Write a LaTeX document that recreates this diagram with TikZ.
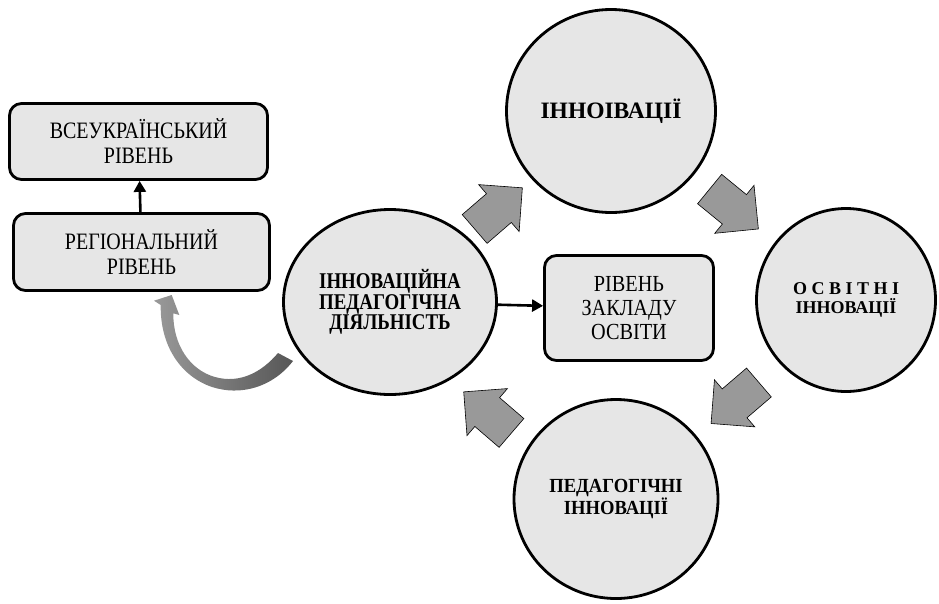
\documentclass[tikz,border=0pt]{standalone}
\usepackage{fontspec}
\setmainfont{Liberation Serif}
\newfontfamily\boxfont[FakeStretch=0.85]{Liberation Serif}
\newfontfamily\schoolfont[FakeStretch=0.88]{Liberation Serif}
\newfontfamily\actfont[FakeStretch=0.84]{Liberation Serif}
\newfontfamily\pedfont[FakeStretch=0.93]{Liberation Serif}
\usetikzlibrary{shapes.geometric,arrows.meta}
\definecolor{nodefill}{HTML}{E6E6E6}
\definecolor{arrowfill}{HTML}{999999}

\begin{document}
\begin{tikzpicture}[x=1pt,y=-1pt,
  levelbox/.style={draw, line width=2.8pt, rounded corners=12pt, fill=nodefill,
    align=center, inner sep=0pt},
  bubble/.style={ellipse, draw, line width=2.8pt, fill=nodefill, align=center,
    inner sep=0pt},
  fatarrow/.style={draw, line width=0.6pt, fill=arrowfill},
  link/.style={line width=2.6pt, -{Triangle[length=11pt,width=12pt]}}
]
\path[use as bounding box] (0,0) rectangle (939,603);

% level boxes
\node[levelbox, minimum width=258pt, minimum height=76pt,
  font=\boxfont\fontsize{23.5}{25}\selectfont] (all) at (138.5,141.5) {ВСЕУКРАЇНСЬКИЙ\\РІВЕНЬ};
\node[levelbox, minimum width=256pt, minimum height=77pt,
  font=\boxfont\fontsize{23.5}{25}\selectfont] (reg) at (141.5,252) {РЕГІОНАЛЬНИЙ\\РІВЕНЬ};
\node[levelbox, minimum width=169pt, minimum height=105pt,
  font=\schoolfont\fontsize{23}{24}\selectfont] (school) at (629,308) {РІВЕНЬ\\ЗАКЛАДУ\\ОСВІТИ};

% circles of the cycle
\node[bubble, minimum width=213pt, minimum height=185pt,
  font=\actfont\bfseries\fontsize{22.5}{20.5}\selectfont] (act) at (390,302)
  {ІННОВАЦІЙНА\\ПЕДАГОГІЧНА\\ДІЯЛЬНІСТЬ};
\node[bubble, minimum width=209pt, minimum height=203pt,
  font=\bfseries\fontsize{23.5}{26}\selectfont] (inn) at (611,111) {ІННОІВАЦІЇ};
\node[bubble, minimum width=179pt, minimum height=183pt,
  font=\bfseries\fontsize{18}{19}\selectfont] (edu) at (846,300)
  {О С В І Т Н І\\ІННОВАЦІЇ};
\node[bubble, minimum width=204pt, minimum height=199pt,
  font=\pedfont\bfseries\fontsize{20}{19.5}\selectfont] (ped) at (616,499)
  {ПЕДАГОГІЧНІ\\ІННОВАЦІЇ};

% straight connectors
\draw[link] (reg) -- (all);
\draw[link] (act) -- (school);

% block arrows of the cycle
\def\fatshape{(-31.5,-19) -- (0.5,-19) -- (0.5,-31) -- (31.5,0) -- (0.5,31)
  -- (0.5,19) -- (-31.5,19) -- cycle}
\draw[fatarrow, shift={(498.5,208.4)}, rotate=40.8] \fatshape;
\draw[fatarrow, shift={(734,209)}, rotate=-39.3] \fatshape;
\draw[fatarrow, shift={(735,403)}, rotate=-139.4] \fatshape;
\draw[fatarrow, shift={(487.6,412.4)}, rotate=139.3] \fatshape;

% curved arrow from the activity back to the regional level
\shade[left color=black!40, right color=black!66]
  (293,361) .. controls (272,388) and (240,396) .. (212,387)
  .. controls (180,376) and (160,345) .. (160.7,305)
  -- (154,300.7) -- (171.7,295) -- (179.3,315) -- (173.3,313.3)
  .. controls (173,345) and (190,370) .. (215,377)
  .. controls (240,384) and (262,372) .. (278,353) -- cycle;
\end{tikzpicture}
\end{document}
